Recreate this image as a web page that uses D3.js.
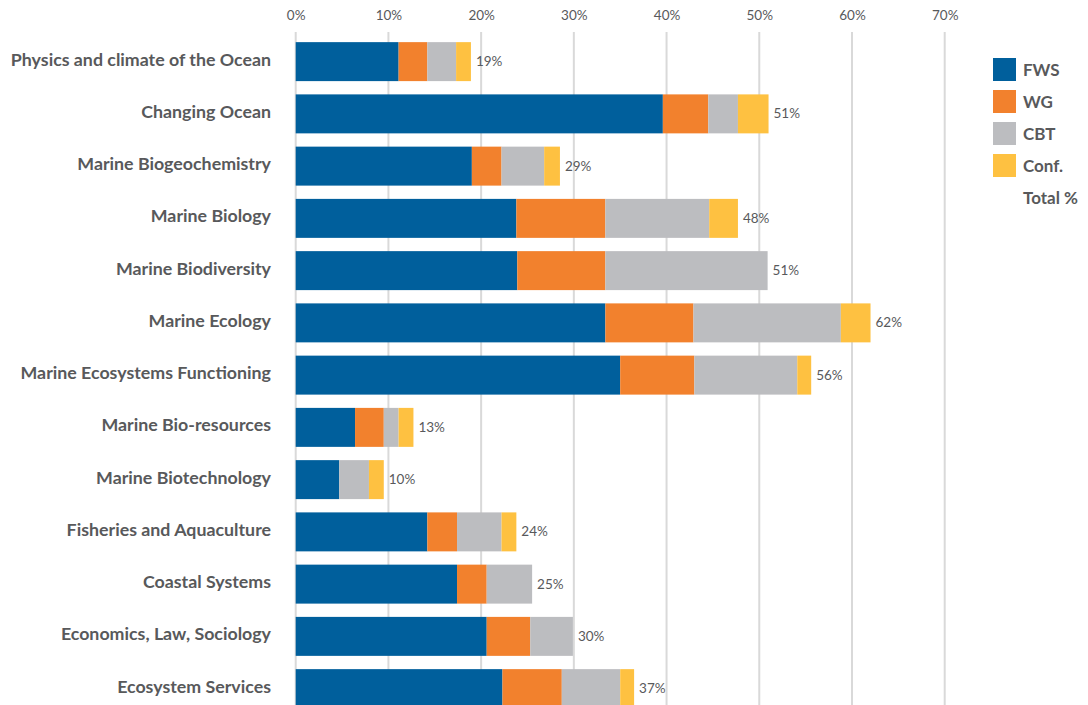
<!DOCTYPE html>
<html>
<head>
<meta charset="utf-8">
<script src="https://cdn.jsdelivr.net/npm/d3@7"></script>
<style>
html,body{margin:0;padding:0;background:#fff;}
svg{display:block;}
</style>
</head>
<body>
<svg id="chart" width="1088" height="705"></svg>
<script>
const categories = [
  "Physics and climate of the Ocean",
  "Changing Ocean",
  "Marine Biogeochemistry",
  "Marine Biology",
  "Marine Biodiversity",
  "Marine Ecology",
  "Marine Ecosystems Functioning",
  "Marine Bio-resources",
  "Marine Biotechnology",
  "Fisheries and Aquaculture",
  "Coastal Systems",
  "Economics, Law, Sociology",
  "Ecosystem Services"
];
const seriesNames = ["FWS", "WG", "CBT", "Conf."];
const FWS  = [11.1, 39.6, 19.0, 23.8, 23.9, 33.4, 35.0, 6.4, 4.7, 14.2, 17.4, 20.6, 22.3];
const WG   = [3.1, 4.9, 3.2, 9.6, 9.5, 9.5, 8.0, 3.1, 0, 3.2, 3.2, 4.7, 6.4];
const CBT  = [3.1, 3.2, 4.6, 11.2, 17.5, 15.9, 11.1, 1.6, 3.2, 4.8, 4.9, 4.6, 6.3];
const Conf = [1.6, 3.3, 1.7, 3.1, 0, 3.2, 1.5, 1.6, 1.6, 1.6, 0, 0, 1.5];
const totalLabels = ["19%", "51%", "29%", "48%", "51%", "62%", "56%", "13%", "10%", "24%", "25%", "30%", "37%"];
const xTicks = [0, 10, 20, 30, 40, 50, 60, 70];
const colors = ["#005f9c", "#f2812d", "#bcbdc0", "#fec141"];

const svg = d3.select("#chart");
const textColor = "#58595b";

const x = d3.scaleLinear().domain([0, 70]).range([295.7, 944.7]);
const y = d3.scaleBand().domain(categories).range([35.5, 714.75]).paddingInner(0.254).paddingOuter(0.127);

// gridlines
svg.append("g").selectAll("line").data(xTicks).join("line")
  .attr("x1", d => x(d)).attr("x2", d => x(d))
  .attr("y1", 32).attr("y2", 705)
  .attr("stroke", "#d9d9d9").attr("stroke-width", 2);

// top axis labels
const axis = d3.axisTop(x).tickValues(xTicks).tickFormat(d => d + "%").tickSize(0).tickPadding(0);
const ag = svg.append("g").attr("transform", "translate(0,20)").call(axis);
ag.select(".domain").remove();
ag.selectAll("text").attr("font-family", "Lato, sans-serif").attr("font-size", 13.5).attr("fill", textColor);

// stacked data
const rows = categories.map((c, i) => ({cat: c, FWS: FWS[i], WG: WG[i], CBT: CBT[i], "Conf.": Conf[i]}));
const stack = d3.stack().keys(seriesNames)(rows);

svg.append("g").selectAll("g").data(stack).join("g")
  .attr("fill", (d, i) => colors[i])
  .selectAll("rect").data(d => d).join("rect")
  .attr("x", d => x(d[0]))
  .attr("width", d => x(d[1]) - x(d[0]))
  .attr("y", d => y(d.data.cat))
  .attr("height", y.bandwidth());

// total labels
svg.append("g").selectAll("text").data(rows).join("text")
  .attr("x", (d, i) => x(FWS[i] + WG[i] + CBT[i] + Conf[i]) + 5)
  .attr("y", d => y(d.cat) + y.bandwidth() / 2)
  .attr("dy", "0.33em")
  .attr("font-family", "Lato, sans-serif").attr("font-size", 13.5).attr("fill", textColor)
  .text((d, i) => totalLabels[i]);

// category labels
svg.append("g").selectAll("text").data(categories).join("text")
  .attr("x", 271)
  .attr("y", d => y(d) + y.bandwidth() / 2)
  .attr("dy", "0.22em")
  .attr("text-anchor", "end")
  .attr("font-family", "Lato, sans-serif").attr("font-weight", 700).attr("font-size", 17.8).attr("fill", textColor)
  .text(d => d);

// legend
const legendItems = seriesNames.concat(["Total %"]);
const lg = svg.append("g");
legendItems.forEach((name, i) => {
  const ly = 58 + i * 32;
  if (i < 4) {
    lg.append("rect").attr("x", 993).attr("y", ly).attr("width", 23).attr("height", 23).attr("fill", colors[i]);
  }
  lg.append("text").attr("x", 1023).attr("y", ly + 11.5).attr("dy", "0.36em")
    .attr("font-family", "Lato, sans-serif").attr("font-weight", 700).attr("font-size", 17).attr("fill", textColor)
    .text(name);
});
</script>
</body>
</html>
